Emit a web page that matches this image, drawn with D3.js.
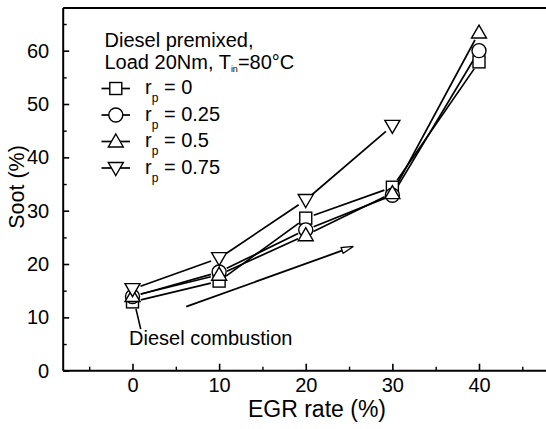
<!DOCTYPE html>
<html><head><meta charset="utf-8">
<script src="https://cdn.jsdelivr.net/npm/d3@7"></script>
<style>
html,body{margin:0;padding:0;background:#fff;}
svg{display:block;}
text{font-family:"Liberation Sans",Arial,Helvetica,sans-serif;fill:#000;}
</style></head>
<body>
<svg id="chart" width="546" height="429"></svg>
<script>
// ---- data ----
const egr = [0, 10, 20, 30, 40];
const sootRp0 = [12.9, 16.8, 28.6, 34.4, 57.9];
const sootRp025 = [13.9, 18.5, 26.4, 32.9, 60.0];
const sootRp05 = [14.0, 18.0, 25.4, 33.3, 63.4];
const sootRp075 = [15.3, 21.1, 32.0, 45.9];
const seriesLabels = ["0", "0.25", "0.5", "0.75"];
const seriesSymbols = ["square", "circle", "triUp", "triDown"];
const xTicks = [0, 10, 20, 30, 40];
const xMinorTicks = [-5, 5, 15, 25, 35, 45];
const yTicks = [0, 10, 20, 30, 40, 50, 60];
const yMinorTicks = [5, 15, 25, 35, 45, 55, 65];
const trendArrow = [[6.2, 12.0], [25.5, 23.3]];
const calloutLine = [[0.4, 11.6], [0.95, 7.8]];

const series = [sootRp0, sootRp025, sootRp05, sootRp075].map((vals, i) => ({
  label: seriesLabels[i], symbol: seriesSymbols[i],
  points: vals.map((v, j) => [egr[j], v])
}));

const svg = d3.select("#chart");
const x = d3.scaleLinear().domain([-8, 48]).range([63.2, 548.3]);
const y = d3.scaleLinear().domain([0, 68]).range([370.7, 8.0]);
const X0 = x.range()[0], Y0 = y.range()[0], YT = y.range()[1];

function drawMarker(g, sym, cx, cy) {
  let el;
  if (sym === "square") {
    el = g.append("rect").attr("x", cx - 6).attr("y", cy - 6).attr("width", 12).attr("height", 12);
  } else if (sym === "circle") {
    el = g.append("circle").attr("cx", cx).attr("cy", cy).attr("r", 7);
  } else if (sym === "triUp") {
    el = g.append("path").attr("d", `M${cx},${cy - 7.5}L${cx + 7.5},${cy + 5.5}L${cx - 7.5},${cy + 5.5}Z`);
  } else {
    el = g.append("path").attr("d", `M${cx},${cy + 7.5}L${cx + 7.5},${cy - 5.5}L${cx - 7.5},${cy - 5.5}Z`);
  }
  el.attr("fill", "#fff").attr("stroke", "#000").attr("stroke-width", 1.4);
}

// axes frame: left, bottom, top
svg.append("line").attr("x1", X0).attr("x2", X0).attr("y1", Y0).attr("y2", YT).attr("stroke", "#000").attr("stroke-width", 2);
svg.append("line").attr("x1", X0).attr("x2", 546).attr("y1", Y0).attr("y2", Y0).attr("stroke", "#000").attr("stroke-width", 2);
svg.append("line").attr("x1", X0).attr("x2", 546).attr("y1", YT).attr("y2", YT).attr("stroke", "#000").attr("stroke-width", 1.8);

// x axis
const xAxis = svg.append("g").attr("transform", `translate(0,${Y0})`)
  .call(d3.axisBottom(x).tickValues(xTicks).tickSize(-7).tickFormat(d3.format("d")));
xAxis.select(".domain").remove();
xAxis.selectAll(".tick line").attr("stroke-width", 1.6);
xAxis.selectAll("text").attr("font-size", 20).attr("y", 21).attr("dy", 0)
  .attr("font-family", '"Liberation Sans",Arial,sans-serif');
const xMinor = svg.append("g").attr("transform", `translate(0,${Y0})`)
  .call(d3.axisBottom(x).tickValues(xMinorTicks).tickSize(-4).tickFormat(""));
xMinor.select(".domain").remove();
xMinor.selectAll(".tick line").attr("stroke-width", 1.4);

// y axis
const yAxis = svg.append("g").attr("transform", `translate(${X0},0)`)
  .call(d3.axisLeft(y).tickValues(yTicks).tickSize(-6).tickPadding(14).tickFormat(d3.format("d")));
yAxis.select(".domain").remove();
yAxis.selectAll(".tick line").attr("stroke-width", 1.6);
yAxis.selectAll("text").attr("font-size", 20)
  .attr("font-family", '"Liberation Sans",Arial,sans-serif');
const yMinor = svg.append("g").attr("transform", `translate(${X0},0)`)
  .call(d3.axisLeft(y).tickValues(yMinorTicks).tickSize(-3.5).tickFormat(""));
yMinor.select(".domain").remove();
yMinor.selectAll(".tick line").attr("stroke-width", 1.4);

// axis titles
svg.append("text").attr("x", 317).attr("y", 417).attr("text-anchor", "middle")
  .attr("font-size", 23).text("EGR rate (%)");
svg.append("text").attr("transform", `translate(24,187) rotate(-90)`).attr("text-anchor", "middle")
  .attr("font-size", 21.5).text("Soot (%)");

// series lines with gaps near markers
const gap = 8.5;
const lineG = svg.append("g");
series.forEach(s => {
  for (let i = 0; i < s.points.length - 1; i++) {
    const ax = x(s.points[i][0]), ay = y(s.points[i][1]);
    const bx = x(s.points[i + 1][0]), by = y(s.points[i + 1][1]);
    const dx = bx - ax, dy = by - ay, L = Math.hypot(dx, dy);
    const ux = dx / L, uy = dy / L;
    lineG.append("line")
      .attr("x1", ax + ux * gap).attr("y1", ay + uy * gap)
      .attr("x2", bx - ux * gap).attr("y2", by - uy * gap)
      .attr("stroke", "#000").attr("stroke-width", 1.7);
  }
});
const markG = svg.append("g");
series.forEach(s => {
  s.points.forEach(p => drawMarker(markG, s.symbol, x(p[0]), y(p[1])));
});

// trend arrow
const ax1 = x(trendArrow[0][0]), ay1 = y(trendArrow[0][1]);
const ax2 = x(trendArrow[1][0]), ay2 = y(trendArrow[1][1]);
svg.append("line").attr("x1", ax1).attr("y1", ay1).attr("x2", ax2 - 8).attr("y2", ay2 + 3)
  .attr("stroke", "#000").attr("stroke-width", 1.8);
{
  const ang = Math.atan2(ay2 - ay1, ax2 - ax1);
  const len = 12, half = 3;
  const bxp = ax2 - Math.cos(ang) * len, byp = ay2 - Math.sin(ang) * len;
  const nx = -Math.sin(ang) * half, ny = Math.cos(ang) * half;
  svg.append("path")
    .attr("d", `M${ax2},${ay2}L${bxp + nx},${byp + ny}L${bxp - nx},${byp - ny}Z`)
    .attr("fill", "#fff").attr("stroke", "#000").attr("stroke-width", 1.3);
}

// callout
svg.append("line")
  .attr("x1", x(calloutLine[0][0])).attr("y1", y(calloutLine[0][1]))
  .attr("x2", x(calloutLine[1][0])).attr("y2", y(calloutLine[1][1]))
  .attr("stroke", "#000").attr("stroke-width", 1.6);
svg.append("text").attr("x", 129).attr("y", 345).attr("font-size", 20).text("Diesel combustion");

// header text
svg.append("text").attr("x", 104.5).attr("y", 46.5).attr("font-size", 20).text("Diesel premixed,");
const h2 = svg.append("text").attr("x", 104.5).attr("y", 68.5).attr("font-size", 20);
h2.append("tspan").text("Load 20Nm, T");
h2.append("tspan").attr("font-size", 9).attr("dy", 3).text("in");
h2.append("tspan").attr("dy", -3).text("=80°C");

// legend
const legRows = [88.5, 115, 141.5, 168];
series.forEach((s, i) => {
  const ry = legRows[i];
  svg.append("line").attr("x1", 101.5).attr("x2", 130).attr("y1", ry).attr("y2", ry)
    .attr("stroke", "#000").attr("stroke-width", 1.7);
  drawMarker(svg, s.symbol, 115.8, ry);
  const t = svg.append("text").attr("x", 145).attr("y", ry + 5.5).attr("font-size", 20);
  t.append("tspan").text("r");
  t.append("tspan").attr("font-size", 12).attr("dy", 8).text("p");
  t.append("tspan").attr("dy", -8).text(" = " + s.label);
});
</script>
</body></html>
